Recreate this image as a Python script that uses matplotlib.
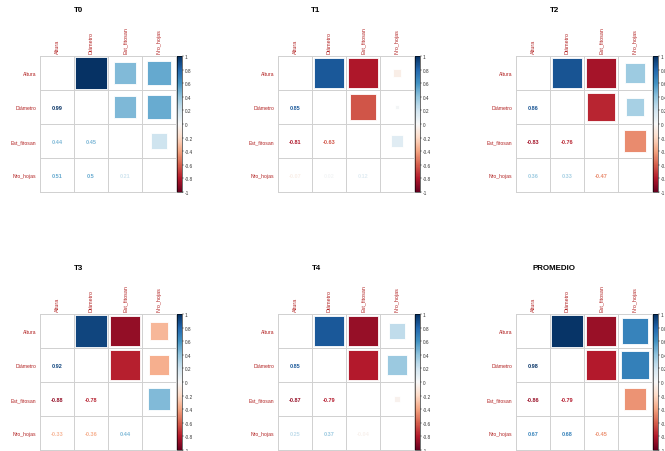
import numpy as np
import matplotlib
matplotlib.use("Agg")
import matplotlib.pyplot as plt
from matplotlib.patches import Rectangle
from matplotlib.colors import Normalize
from matplotlib.cm import ScalarMappable

plt.rcParams["font.family"] = ["Liberation Sans", "DejaVu Sans"]

# Variables and pairwise correlations (lower triangle, row by row)
variables = ["Altura", "Diámetro", "Est_fitosan", "Nro_hojas"]
panel_titles = ["T0", "T1", "T2", "T3", "T4", "PROMEDIO"]

#            D-A    E-A    E-D    N-A    N-D    N-E
r_t0   = [0.99,  0.44,  0.45,  0.51,  0.50,  0.21]
r_t1   = [0.85, -0.81, -0.63, -0.07,  0.02,  0.12]
r_t2   = [0.86, -0.83, -0.76,  0.36,  0.33, -0.47]
r_t3   = [0.92, -0.88, -0.78, -0.33, -0.36,  0.44]
r_t4   = [0.85, -0.87, -0.79,  0.25,  0.37, -0.04]
r_prom = [0.98, -0.86, -0.79,  0.67,  0.68, -0.45]
panel_values = [r_t0, r_t1, r_t2, r_t3, r_t4, r_prom]

cbar_ticks = np.round(np.arange(-1, 1.01, 0.2), 1)

W, H = 665, 452
CMAP = plt.get_cmap("RdBu")
NORM = Normalize(-1, 1)
LABEL_COL = "#b22222"
GRID_COL = "#d0d0d0"

# grid placement in pixels: (left, top) of each 4x4 block
GRID_PX = 136
PANEL_POS = [(40, 57), (278, 57), (516, 57),
             (40, 315), (278, 315), (516, 315)]


def _ax_px(fig, x, y, w, h):
    return fig.add_axes([x / W, 1 - (y + h) / H, w / W, h / H])


def _to_matrix(vals):
    n = len(variables)
    m = np.eye(n)
    k = 0
    for i in range(1, n):
        for j in range(i):
            m[i, j] = m[j, i] = vals[k]
            k += 1
    return m


def _fmt(v):
    s = f"{v:.2f}".rstrip("0").rstrip(".")
    return s


def draw_panel(fig, title, vals, left, top):
    corr = _to_matrix(vals)
    n = len(variables)
    ax = _ax_px(fig, left, top, GRID_PX, GRID_PX)
    ax.set_xlim(0, n)
    ax.set_ylim(n, 0)
    for s in ax.spines.values():
        s.set_visible(False)

    for k in range(n + 1):
        ax.plot([k, k], [0, n], color=GRID_COL, lw=0.7, clip_on=False, zorder=1)
        ax.plot([0, n], [k, k], color=GRID_COL, lw=0.7, clip_on=False, zorder=1)

    # upper triangle: squares sized by |r|, lower triangle: the value itself
    for i in range(n):
        for j in range(n):
            if i == j:
                continue
            r = corr[i, j]
            col = CMAP(NORM(r))
            if j > i:
                side = np.sqrt(abs(r)) * 0.97
                ax.add_patch(Rectangle((j + 0.5 - side / 2, i + 0.5 - side / 2),
                                       side, side, facecolor=col,
                                       edgecolor="white", lw=0.6, zorder=2))
            else:
                ax.text(j + 0.5, i + 0.5, _fmt(r), color=col, fontsize=4,
                        fontweight="bold", ha="center", va="center")

    ticks = np.arange(n) + 0.5
    ax.xaxis.tick_top()
    ax.set_xticks(ticks)
    ax.set_xticklabels(variables, rotation=90, color=LABEL_COL, fontsize=3.9)
    ax.set_yticks(ticks)
    ax.set_yticklabels(variables, color=LABEL_COL, fontsize=3.7)
    ax.tick_params(length=0, pad=2.5)

    fig.text((left + 38) / W, 1 - (top - 47) / H, title, fontsize=5.7,
             fontweight="bold", ha="center", va="center")

    cax = _ax_px(fig, left + GRID_PX + 1, top, 4.5, GRID_PX)
    cb = fig.colorbar(ScalarMappable(norm=NORM, cmap=CMAP), cax=cax,
                      ticks=cbar_ticks)
    cb.ax.set_yticklabels([_fmt(t) if t != 0 else "0" for t in cbar_ticks])
    cb.ax.tick_params(labelsize=3.4, length=1.5, width=0.3, pad=0.8,
                      colors="#333333")
    cb.outline.set_linewidth(0.4)


fig = plt.figure(figsize=(W / 100, H / 100), dpi=100)
for title, vals, (left, top) in zip(panel_titles, panel_values, PANEL_POS):
    draw_panel(fig, title, vals, left, top)

fig.savefig("out.png", dpi=100)
